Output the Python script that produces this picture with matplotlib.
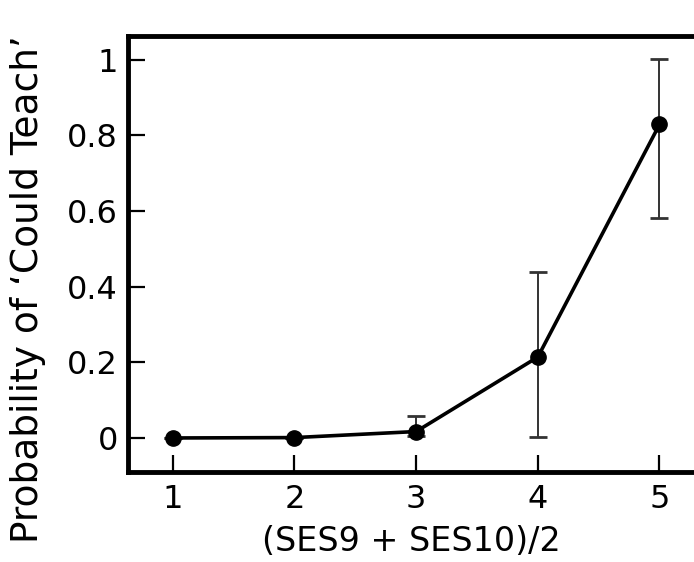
import matplotlib
matplotlib.use("Agg")
import matplotlib.pyplot as plt

# mean of SES9 and SES10
ses_avg = [1, 2, 3, 4, 5]
p_teach = [0.0, 0.001, 0.017, 0.214, 0.829]
err_low = [0.0, 0.0, 0.012, 0.211, 0.246]
err_high = [0.0, 0.0, 0.041, 0.224, 0.172]

xticks = [1, 2, 3, 4, 5]
yticks = [0, 0.2, 0.4, 0.6, 0.8, 1.0]
ytick_labels = ["0", "0.2", "0.4", "0.6", "0.8", "1"]

plt.rcParams['font.family'] = ['DejaVu Sans']

W, H = 694, 562
fig = plt.figure(figsize=(W / 100, H / 100), dpi=100)
left, right, top, bottom = 127.5, 696, 36, 472
ax = fig.add_axes([left / W, 1 - bottom / H, (right - left) / W, (bottom - top) / H])

ax.errorbar(ses_avg, p_teach, yerr=[err_low, err_high], fmt='none',
            ecolor='#333333', elinewidth=1.4, capsize=6.5, capthick=2, zorder=2)
ax.plot(ses_avg, p_teach, color='black', lw=2.6, marker='o', ms=11, zorder=3)

ax.set_xlim(0.628, 5.30)
ax.set_ylim(-0.09, 1.063)
ax.set_xticks(xticks)
ax.set_yticks(yticks)
ax.set_yticklabels(ytick_labels)
ax.tick_params(direction='in', length=12, width=1.6, labelsize=23)
ax.tick_params(axis='x', pad=9)
ax.tick_params(axis='y', pad=7)

for s in ax.spines.values():
    s.set_linewidth(3.5)

ax.set_xlabel("(SES9 + SES10)/2", fontsize=24)
ax.xaxis.set_label_coords(0.5, (bottom - 525) / (bottom - top))
ax.set_ylabel("Probability of \u2018Could Teach\u2019", fontsize=27)
ax.yaxis.set_label_coords((46 - left) / (right - left), 0.42)

fig.savefig("out.png", dpi=100)
